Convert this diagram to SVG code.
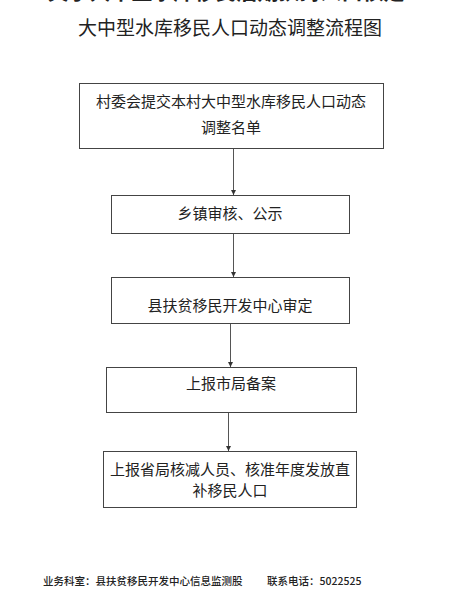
<svg xmlns="http://www.w3.org/2000/svg" width="460" height="615" viewBox="0 0 460 615">
<defs>
<style>
.t{font-family:"Noto Sans CJK SC","Liberation Sans",sans-serif;fill:#222;text-anchor:middle}
.f{font-family:"Noto Sans CJK SC","Liberation Sans",sans-serif;fill:#222;font-size:10.5px;font-weight:500}
.box{fill:#fff;stroke:#444;stroke-width:1}
.c{stroke:#555;stroke-width:1;fill:none}
</style>
<marker id="ah" viewBox="0 0 6 6" refX="6" refY="3" markerWidth="5" markerHeight="5" orient="auto" markerUnits="userSpaceOnUse">
<path d="M0,0 L6,3 L0,6 z" fill="#333"/>
</marker>
</defs>
<rect width="460" height="615" fill="#fff"/>
<text class="t" x="226" y="-1.5" font-size="21" font-weight="bold">关于大中型水库移民后期扶持人口核定</text>
<text class="t" x="230" y="35" font-size="19">大中型水库移民人口动态调整流程图</text>
<g id="n1">
<rect class="box" x="79.5" y="83.5" width="304" height="65"/>
<text class="t" x="231" y="107" font-size="15">村委会提交本村大中型水库移民人口动态</text>
<text class="t" x="231" y="133" font-size="15">调整名单</text>
</g>
<g id="n2">
<rect class="box" x="111.5" y="195.5" width="238" height="38"/>
<text class="t" x="230" y="219" font-size="15">乡镇审核、公示</text>
</g>
<g id="n3">
<rect class="box" x="111.5" y="277.5" width="238" height="46"/>
<text class="t" x="230" y="311" font-size="15">县扶贫移民开发中心审定</text>
</g>
<g id="n4">
<rect class="box" x="106.5" y="367.5" width="250" height="45"/>
<text class="t" x="231" y="389" font-size="15">上报市局备案</text>
</g>
<g id="n5">
<rect class="box" x="103.5" y="451.5" width="253" height="56"/>
<text class="t" x="230" y="475" font-size="15">上报省局核减人员、核准年度发放直</text>
<text class="t" x="230" y="496" font-size="15">补移民人口</text>
</g>
<g id="connectors">
<line class="c" x1="233.5" y1="149" x2="233.5" y2="195" marker-end="url(#ah)"/>
<line class="c" x1="233.5" y1="234" x2="233.5" y2="277" marker-end="url(#ah)"/>
<line class="c" x1="230.5" y1="324" x2="230.5" y2="367" marker-end="url(#ah)"/>
<line class="c" x1="228.5" y1="413" x2="228.5" y2="451" marker-end="url(#ah)"/>
</g>
<text class="f" x="43" y="585">业务科室：县扶贫移民开发中心信息监测股</text>
<text class="f" x="267" y="585">联系电话：5022525</text>
</svg>
